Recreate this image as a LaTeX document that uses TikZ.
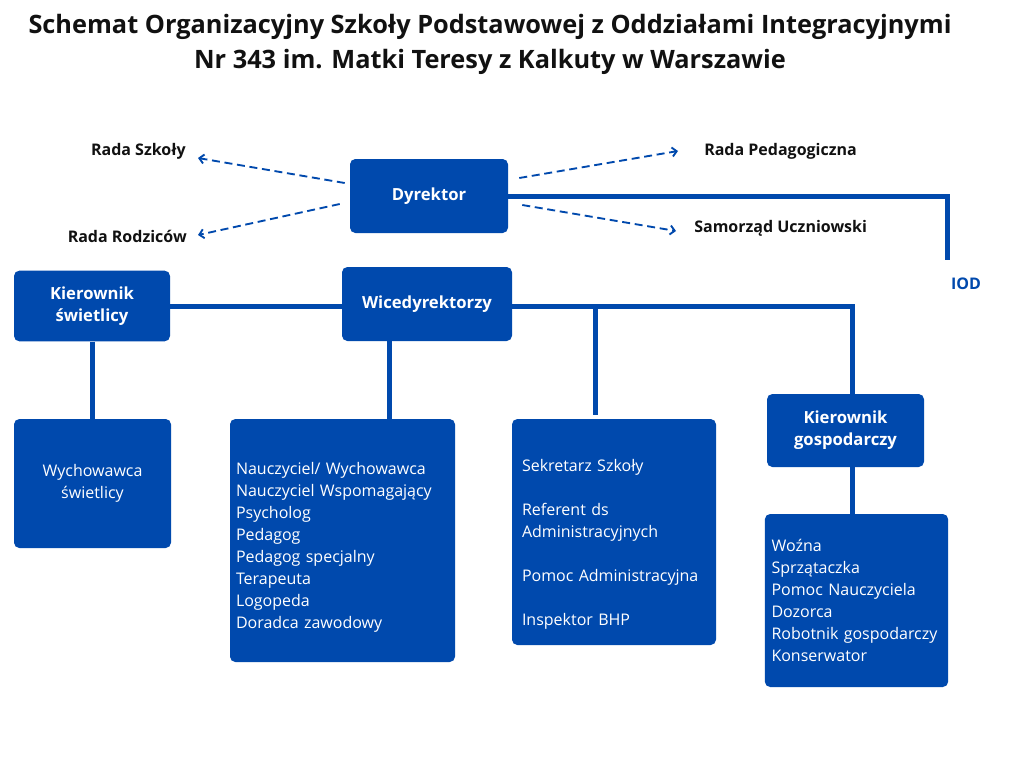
\documentclass[tikz,border=0pt]{standalone}
\usepackage{fontspec}
\setmainfont{Open Sans}
\usetikzlibrary{
  arrows.meta,
  positioning,
  calc
}
\definecolor{szBlue}{HTML}{0049AD}
\definecolor{szText}{HTML}{111111}
\tikzset{
  szbox/.style={
    draw=none, fill=szBlue, rounded corners=4pt, text=white, inner sep=0pt
  },
  szhead/.style={szbox, font=\fontsize{12.5}{16.5}\selectfont\bfseries, align=center},
  szlist/.style={szbox, font=\fontsize{12}{16.5}\selectfont, align=left},
  szline/.style={line width=3.75pt, szBlue},
  szdash/.style={-{Straight Barb[length=1.2mm, width=2.4mm]}, line width=1.4pt, szBlue, dash pattern=on 6pt off 3.5pt},
  sztag/.style={font=\fontsize{12}{14}\selectfont\bfseries, text=szText, inner sep=0pt},
  sztitle/.style={font=\fontsize{19}{26.25}\selectfont\bfseries, text=szText, align=center}
}

\begin{document}
\begin{tikzpicture}[x=0.75pt, y=-0.75pt]
  \useasboundingbox[fill=white] (0,0) rectangle (1024,768);

  \node[sztitle] (title) at (490,44) {Schemat Organizacyjny Szkoły Podstawowej z Oddziałami Integracyjnymi\\Nr 343 im. Matki Teresy z Kalkuty w Warszawie};

  % top level
  \node[szhead, minimum width=118.5pt, minimum height=55.5pt] (dyr) at (429,196) {Dyrektor};
  \node[sztag, anchor=east] (rs) at (186,151) {Rada Szkoły};
  \node[sztag, anchor=east] (rr) at (187,236) {Rada Rodziców};
  \node[sztag, anchor=west] (rp) at (704,151) {Rada Pedagogiczna};
  \node[sztag, anchor=west] (su) at (694,228) {Samorząd Uczniowski};
  \node[sztag, text=szBlue] (iod) at (966,284) {IOD};
  \coordinate (iodend) at (947,260);

  % second level
  \node[szhead, minimum width=117pt, minimum height=53pt] (ksw) at (92,306) {Kierownik\\świetlicy};
  \node[szhead, minimum width=127.5pt, minimum height=55.5pt] (wice) at (427,304) {Wicedyrektorzy};
  \node[szhead, minimum width=117.75pt, minimum height=54.75pt] (kgosp) at (845.5,430.5) {Kierownik\\gospodarczy};
  \coordinate (jsek) at (595,306);
  \coordinate (jgosp) at (852,306);

  % staff boxes
  \node[szhead, font=\fontsize{12}{16.5}\selectfont, minimum width=117.75pt, minimum height=96.75pt] (wsw) at (92.5,483.5) {Wychowawca\\świetlicy};
  \node[szlist, text width=159.75pt, inner xsep=4.5pt, minimum height=182.25pt] (naucz) at (342.5,540.5) {\rule{0pt}{19pt}Nauczyciel/ Wychowawca\\Nauczyciel Wspomagający\\Psycholog\\Pedagog\\Pedagog specjalny\\Terapeuta\\Logopeda\\Doradca zawodowy};
  \node[szlist, text width=138pt, inner xsep=7.5pt, minimum height=169.5pt] (sek) at (614,532) {\rule{0pt}{28pt}Sekretarz Szkoły\\[16.5pt]Referent ds\\Administracyjnych\\[16.5pt]Pomoc Administracyjna\\[16.5pt]Inspektor BHP};
  \node[szlist, text width=127.5pt, inner xsep=5pt, minimum height=129.75pt] (wozna) at (856.5,600.5) {Woźna\\Sprzątaczka\\Pomoc Nauczyciela\\Dozorca\\Robotnik gospodarczy\\Konserwator};

  % dashed links
  \draw[szdash] ([shift={(-5,-13)}]dyr.west) -- ([shift={(12,7)}]rs.east);
  \draw[szdash] ([shift={(-10,8)}]dyr.west) -- ([shift={(11,-1)}]rr.east);
  \draw[szdash] ([shift={(11,-18)}]dyr.east) -- ([shift={(-26,0)}]rp.west);
  \draw[szdash] ([shift={(14,9)}]dyr.east) -- ([shift={(-18,3)}]su.west);

  % solid links
  \draw[szline] (dyr.east) -| (iodend);
  \draw[szline] (ksw.east) -- (ksw.east -| wice.west);
  \draw[szline] (wice.east |- jsek) -- (jgosp) -- (jgosp |- kgosp.north);
  \draw[szline] (ksw.south) -- (ksw.south |- wsw.north);
  \draw[szline] ([xshift=-28.5pt]wice.south) -- ([xshift=-28.5pt]wice.south |- naucz.north);
  \draw[szline, shorten >=3pt] (jsek) -- (jsek |- sek.north);
  \draw[szline] (jgosp |- kgosp.south) -- (jgosp |- wozna.north);
\end{tikzpicture}
\end{document}
